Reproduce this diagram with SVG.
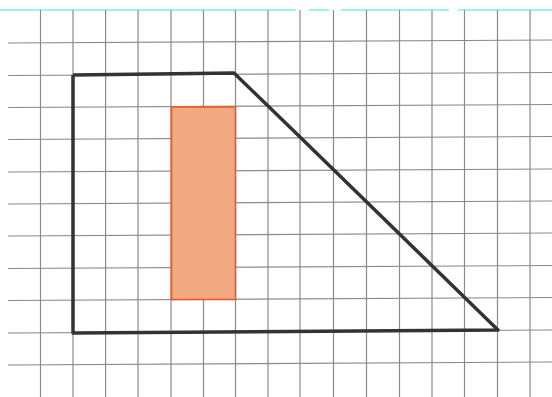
<svg xmlns="http://www.w3.org/2000/svg" width="552" height="397" viewBox="0 0 552 397">
<style>
.g line{stroke:#8a8a8a;stroke-width:1.2}
.shape{fill:none;stroke:#333;stroke-width:3.5;stroke-linejoin:round}
.rect{fill:#f2a882;stroke:#e85a28;stroke-width:1.6}
</style>
<rect width="552" height="397" fill="#fff"/>
<g id="top-line">
<line x1="0" y1="10" x2="552" y2="10" stroke="#7ff0ec" stroke-width="1.5" stroke-dasharray="296 13 20 12 108 9 200"/>
</g>
<g id="grid" class="g">
<line x1="40.5" y1="10" x2="40.5" y2="397"/>
<line x1="73" y1="10" x2="73" y2="397"/>
<line x1="105.6" y1="10" x2="105.6" y2="397"/>
<line x1="138" y1="10" x2="138" y2="397"/>
<line x1="171" y1="10" x2="171" y2="397"/>
<line x1="203.5" y1="10" x2="203.5" y2="397"/>
<line x1="235.5" y1="10" x2="235.5" y2="397"/>
<line x1="268" y1="10" x2="268" y2="397"/>
<line x1="300" y1="10" x2="300" y2="397"/>
<line x1="333.5" y1="10" x2="333.5" y2="397"/>
<line x1="366.5" y1="10" x2="366.5" y2="397"/>
<line x1="399.5" y1="10" x2="399.5" y2="397"/>
<line x1="432" y1="10" x2="432" y2="397"/>
<line x1="464.5" y1="10" x2="464.5" y2="397"/>
<line x1="497.5" y1="10" x2="497.5" y2="397"/>
<line x1="530" y1="10" x2="530" y2="397"/>
<line x1="8" y1="43" x2="552" y2="40"/>
<line x1="8" y1="75.5" x2="552" y2="72.5"/>
<line x1="8" y1="107.5" x2="552" y2="104.5"/>
<line x1="8" y1="139.5" x2="552" y2="136.5"/>
<line x1="8" y1="172" x2="552" y2="169"/>
<line x1="8" y1="204" x2="552" y2="201"/>
<line x1="8" y1="236" x2="552" y2="233"/>
<line x1="8" y1="268.5" x2="552" y2="265.5"/>
<line x1="8" y1="300.5" x2="552" y2="297.5"/>
<line x1="8" y1="333" x2="552" y2="330"/>
<line x1="8" y1="365" x2="552" y2="362"/>
</g>
<g id="rectangle">
<rect class="rect" x="171.5" y="107" width="64" height="192.5"/>
</g>
<g id="trapezoid">
<polyline class="shape" points="73,75 234,73 300,137 498,330 73,333 73,75"/>
</g>
</svg>
